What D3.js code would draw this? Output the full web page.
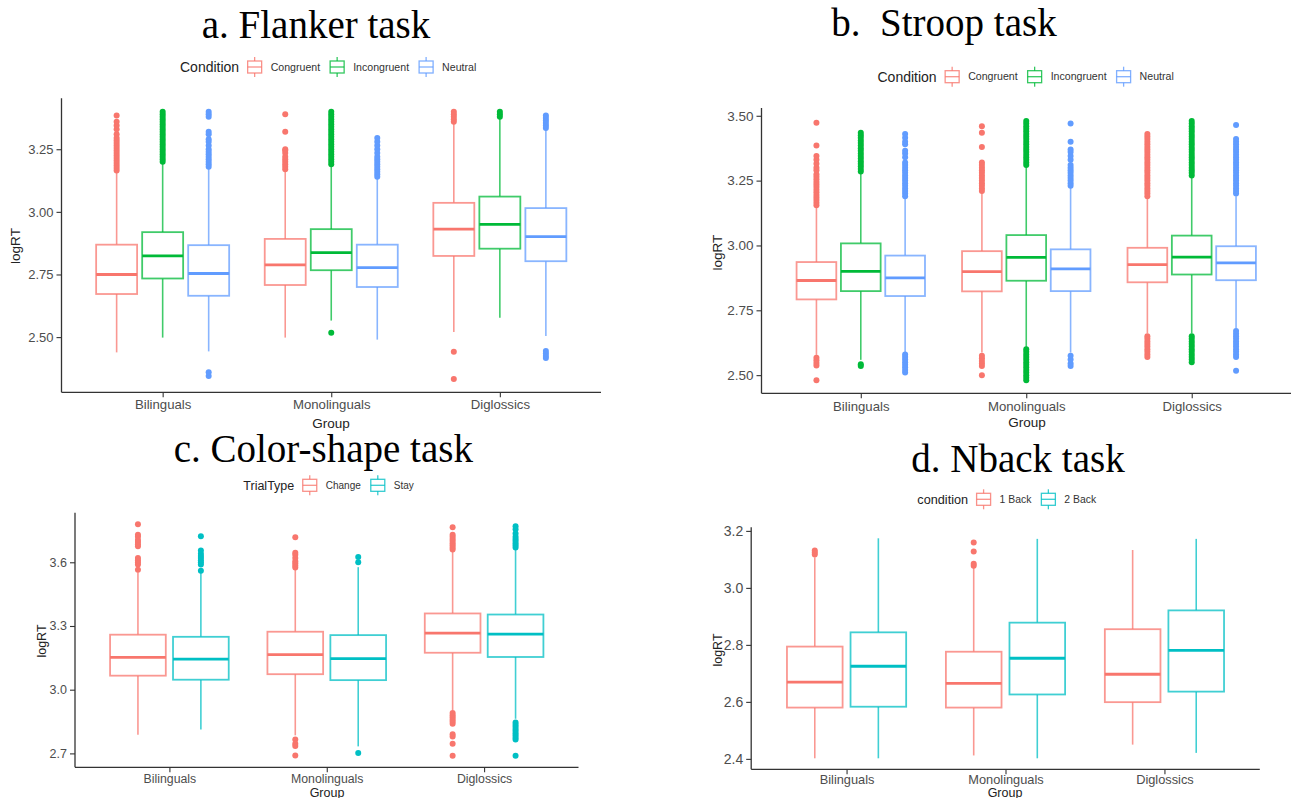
<!DOCTYPE html>
<html>
<head>
<meta charset="utf-8">
<script src="https://cdn.jsdelivr.net/npm/d3@7"></script>
<style>
  html, body { margin: 0; padding: 0; background: #fff; }
  svg { display: block; }
  .tick text { fill: #4d4d4d; font-family: "Liberation Sans", Arial, sans-serif; }
  .domain, .tick line { stroke: #333; }
</style>
</head>
<body>
<svg id="chart" width="1293" height="798"></svg>
<script>
// ---------------- DATA ----------------
const groups = ["Bilinguals", "Monolinguals", "Diglossics"];

// a. Flanker task  [group][condition]
const flankerConds = ["Congruent", "Incongruent", "Neutral"];
const flankerLo  = [[2.439, 2.498, 2.443], [2.498, 2.566, 2.490], [2.520, 2.577, 2.504]];
const flankerQ1  = [[2.672, 2.734, 2.665], [2.708, 2.767, 2.700], [2.824, 2.853, 2.803]];
const flankerMed = [[2.750, 2.824, 2.754], [2.788, 2.837, 2.777], [2.931, 2.950, 2.901]];
const flankerQ3  = [[2.869, 2.919, 2.867], [2.892, 2.931, 2.869], [3.036, 3.061, 3.015]];
const flankerHi  = [[3.161, 3.195, 3.175], [3.161, 3.185, 3.135], [3.353, 3.373, 3.327]];
const flankerOut = [
  [
    [3.165,3.175,3.185,3.195,3.205,3.215,3.225,3.235,3.245,3.255,3.265,3.275,3.285,3.295,3.31,3.33,3.345,3.36,3.385],
    [3.20,3.21,3.22,3.23,3.24,3.25,3.26,3.27,3.28,3.29,3.30,3.31,3.32,3.33,3.34,3.35,3.36,3.37,3.38,3.39,3.40],
    [3.18,3.19,3.20,3.21,3.22,3.23,3.24,3.25,3.265,3.28,3.29,3.31,3.32,3.38,3.39,3.40,2.345,2.36]
  ],
  [
    [3.17,3.18,3.19,3.20,3.21,3.22,3.235,3.245,3.25,3.32,3.39],
    [3.19,3.20,3.21,3.22,3.23,3.24,3.25,3.26,3.27,3.28,3.29,3.30,3.31,3.32,3.33,3.34,3.35,3.36,3.37,3.38,3.39,3.40,2.517],
    [3.14,3.15,3.16,3.17,3.18,3.19,3.20,3.21,3.22,3.235,3.25,3.265,3.28,3.295]
  ],
  [
    [3.36,3.37,3.38,3.39,3.40,2.442,2.333],
    [3.38,3.39,3.40],
    [3.335,3.345,3.355,3.365,3.375,3.385,2.417,2.425,2.435,2.445]
  ]
];

// b. Stroop task
const stroopConds = ["Congruent", "Incongruent", "Neutral"];
const stroopLo  = [[2.578, 2.559, 2.584], [2.587, 2.603, 2.587], [2.661, 2.661, 2.680]];
const stroopQ1  = [[2.792, 2.824, 2.805], [2.823, 2.864, 2.824], [2.858, 2.888, 2.866]];
const stroopMed = [[2.865, 2.900, 2.875], [2.899, 2.954, 2.910], [2.926, 2.955, 2.933]];
const stroopQ3  = [[2.936, 3.008, 2.961], [2.978, 3.040, 2.985], [2.991, 3.038, 2.997]];
const stroopHi  = [[3.152, 3.279, 3.184], [3.203, 3.305, 3.225], [3.184, 3.260, 3.190]];
const stroopOut = [
  [
    [3.155,3.165,3.175,3.185,3.195,3.205,3.215,3.225,3.235,3.245,3.255,3.265,3.275,3.29,3.30,3.315,3.33,3.345,3.385,3.473,2.537,2.547,2.557,2.567,2.48],
    [3.285,3.295,3.305,3.315,3.325,3.335,3.345,3.355,3.365,3.375,3.385,3.395,3.405,3.415,3.425,3.435,2.535,2.542],
    [3.19,3.20,3.21,3.22,3.23,3.24,3.25,3.26,3.27,3.28,3.29,3.30,3.31,3.32,3.34,3.355,3.365,3.39,3.40,3.415,3.43,2.51,2.52,2.53,2.54,2.55,2.56,2.57,2.58]
  ],
  [
    [3.21,3.22,3.23,3.24,3.25,3.26,3.27,3.28,3.29,3.30,3.31,3.32,3.38,3.435,3.46,2.535,2.545,2.555,2.565,2.575,2.50],
    [3.31,3.32,3.33,3.34,3.35,3.36,3.37,3.38,3.39,3.40,3.41,3.42,3.43,3.44,3.45,3.46,3.47,3.48,2.48,2.49,2.50,2.51,2.52,2.53,2.54,2.55,2.56,2.57,2.58,2.59,2.60],
    [3.23,3.24,3.25,3.26,3.27,3.28,3.29,3.30,3.31,3.33,3.345,3.36,3.37,3.40,3.47,2.535,2.545,2.56,2.575]
  ],
  [
    [3.19,3.20,3.21,3.22,3.23,3.24,3.25,3.26,3.27,3.28,3.29,3.30,3.31,3.32,3.33,3.34,3.35,3.36,3.37,3.38,3.39,3.40,3.41,3.42,3.43,2.57,2.58,2.59,2.60,2.61,2.62,2.63,2.64,2.65],
    [3.27,3.28,3.29,3.30,3.31,3.32,3.33,3.34,3.35,3.36,3.37,3.38,3.39,3.40,3.41,3.42,3.43,3.44,3.45,3.46,3.47,3.48,2.55,2.56,2.57,2.58,2.59,2.60,2.61,2.62,2.63,2.64,2.65],
    [3.20,3.21,3.22,3.23,3.24,3.25,3.26,3.27,3.28,3.29,3.30,3.31,3.32,3.33,3.34,3.35,3.36,3.37,3.38,3.39,3.40,3.41,3.464,2.57,2.58,2.59,2.60,2.61,2.62,2.63,2.64,2.65,2.66,2.67,2.517]
  ]
];

// c. Color-shape task
const colorConds = ["Change", "Stay"];
const colorLo  = [[2.788, 2.812], [2.785, 2.733], [2.903, 2.863]];
const colorQ1  = [[3.066, 3.047], [3.073, 3.045], [3.174, 3.154]];
const colorMed = [[3.152, 3.144], [3.165, 3.146], [3.266, 3.262]];
const colorQ3  = [[3.259, 3.249], [3.273, 3.257], [3.359, 3.354]];
const colorHi  = [[3.553, 3.553], [3.569, 3.577], [3.652, 3.663]];
const colorOut = [
  [
    [3.565,3.59,3.60,3.61,3.62,3.675,3.685,3.695,3.705,3.72,3.73,3.779],
    [3.56,3.59,3.60,3.61,3.62,3.63,3.64,3.655,3.723]
  ],
  [
    [3.575,3.585,3.595,3.605,3.62,3.635,3.645,3.718,2.765,2.745,2.735,2.69],
    [3.60,3.625,2.702]
  ],
  [
    [3.66,3.67,3.68,3.69,3.70,3.71,3.72,3.73,3.765,2.84,2.85,2.86,2.87,2.88,2.89,2.78,2.79,2.745,2.689],
    [3.67,3.68,3.69,3.70,3.71,3.72,3.735,3.755,3.77,2.765,2.775,2.785,2.795,2.805,2.815,2.825,2.835,2.845,2.689]
  ]
];

// d. Nback task
const nbackConds = ["1 Back", "2 Back"];
const nbackLo  = [[2.402, 2.402], [2.412, 2.402], [2.450, 2.421]];
const nbackQ1  = [[2.580, 2.583], [2.580, 2.626], [2.599, 2.636]];
const nbackMed = [[2.669, 2.725], [2.665, 2.753], [2.697, 2.781]];
const nbackQ3  = [[2.794, 2.844], [2.776, 2.878], [2.855, 2.921]];
const nbackHi  = [[3.107, 3.174], [3.072, 3.172], [3.133, 3.172]];
const nbackOut = [
  [[3.117,3.124,3.131], []],
  [[3.078,3.085,3.128,3.159], []],
  [[], []]
];

const yTicksA = [2.50, 2.75, 3.00, 3.25];
const yTicksB = [2.50, 2.75, 3.00, 3.25, 3.50];
const yTicksC = [2.7, 3.0, 3.3, 3.6];
const yTicksD = [2.4, 2.6, 2.8, 3.0, 3.2];

const colors3 = ["#F8766D", "#00BA38", "#619CFF"];
const colors2 = ["#F8766D", "#00BFC4"];

// ---------------- LAYOUT ----------------
const panels = [
  { title: "a. Flanker task", tx: 316, ty: 38,
    legendTitle: "Condition", lx: 180, ly: 67, lts: 14, lls: 10.6,
    conds: flankerConds, colors: colors3,
    lo: flankerLo, q1: flankerQ1, med: flankerMed, q3: flankerQ3, hi: flankerHi, out: flankerOut,
    area: [61.5, 601, 98.3, 392.3], spacing: 0.273, bw: 0.243,
    yTicks: yTicksA, fmt: d3.format(".2f"), tickFs: 13, xTickFs: 13.2, xPad: 2.5,
    ylab: [15.5, 246], xlab: [331, 427.5], axisFs: 13.5 },
  { title: "b.\u00a0\u00a0Stroop task", tx: 944, ty: 36,
    legendTitle: "Condition", lx: 877.5, ly: 76.7, lts: 14, lls: 10.6,
    conds: stroopConds, colors: colors3,
    lo: stroopLo, q1: stroopQ1, med: stroopMed, q3: stroopQ3, hi: stroopHi, out: stroopOut,
    area: [761.5, 1291, 108, 393.3], spacing: 0.268, bw: 0.24,
    yTicks: yTicksB, fmt: d3.format(".2f"), tickFs: 13.5, xTickFs: 13.2, xPad: 3,
    ylab: [717.6, 252.7], xlab: [1027, 427], axisFs: 13.5 },
  { title: "c. Color-shape task", tx: 323.3, ty: 462,
    legendTitle: "TrialType", lx: 243.3, ly: 485.3, lts: 12.5, lls: 10,
    conds: colorConds, colors: colors2,
    lo: colorLo, q1: colorQ1, med: colorMed, q3: colorQ3, hi: colorHi, out: colorOut,
    area: [75, 578.5, 512.7, 767.3], spacing: 0.4, bw: 0.354,
    yTicks: yTicksC, fmt: d3.format(".1f"), tickFs: 12.5, xTickFs: 12.3, xPad: 1.5,
    ylab: [41.3, 641], xlab: [327, 797], axisFs: 12.5 },
  { title: "d. Nback task", tx: 1018, ty: 472,
    legendTitle: "condition", lx: 917.3, ly: 499.3, lts: 12.7, lls: 10.4,
    conds: nbackConds, colors: colors2,
    lo: nbackLo, q1: nbackQ1, med: nbackMed, q3: nbackQ3, hi: nbackHi, out: nbackOut,
    area: [751.2, 1259.8, 527.3, 769.3], spacing: 0.4, bw: 0.35,
    yTicks: yTicksD, fmt: d3.format(".1f"), tickFs: 14, xTickFs: 12.8, xPad: 0.5,
    ylab: [717.6, 650], xlab: [1005, 797], axisFs: 12.5 }
];

const svg = d3.select("#chart");
const SANS = '"Liberation Sans", Arial, sans-serif';
const SERIF = '"Liberation Serif", "Times New Roman", serif';

function drawPanel(p) {
  const g = svg.append("g");
  const [x0, x1, y0, y1] = p.area;

  // y domain from the data, expanded by 5% (ggplot default)
  const vals = [];
  groups.forEach((_, gi) => p.conds.forEach((_, ci) => {
    vals.push(p.lo[gi][ci], p.hi[gi][ci], ...p.out[gi][ci]);
  }));
  const [mn, mx] = d3.extent(vals);
  const pad = (mx - mn) * 0.05;
  const y = d3.scaleLinear().domain([mn - pad, mx + pad]).range([y1, y0]);
  const x = d3.scalePoint().domain(groups).range([x0, x1]).padding(0.6);
  const step = x.step();
  const nC = p.conds.length;

  // title
  svg.append("text").attr("x", p.tx).attr("y", p.ty)
    .attr("text-anchor", "middle").attr("font-family", SERIF)
    .attr("font-size", 39).attr("fill", "#000").text(p.title);

  // legend
  const lg = svg.append("g").attr("transform", `translate(${p.lx},${p.ly})`);
  const lt = lg.append("text").attr("x", 0).attr("y", 0).attr("dy", "0.35em")
    .attr("font-family", SANS).attr("font-size", p.lts).attr("fill", "#222").text(p.legendTitle);
  let cx = lt.node().getComputedTextLength() + 7.5;
  p.conds.forEach((c, ci) => {
    const col = p.colors[ci];
    const kg = lg.append("g").attr("transform", `translate(${cx},0)`);
    kg.append("line").attr("x1", 8).attr("x2", 8).attr("y1", -10).attr("y2", -6)
      .attr("stroke", col).attr("stroke-width", 1.3).attr("stroke-opacity", 0.8);
    kg.append("line").attr("x1", 8).attr("x2", 8).attr("y1", 6).attr("y2", 10)
      .attr("stroke", col).attr("stroke-width", 1.3).attr("stroke-opacity", 0.8);
    kg.append("rect").attr("x", 1).attr("y", -6).attr("width", 14).attr("height", 12)
      .attr("fill", "none").attr("stroke", col).attr("stroke-width", 1.3).attr("stroke-opacity", 0.8);
    kg.append("line").attr("x1", 1).attr("x2", 15).attr("y1", 0).attr("y2", 0)
      .attr("stroke", col).attr("stroke-width", 1.3).attr("stroke-opacity", 0.8);
    cx += 16 + 8;
    const t = lg.append("text").attr("x", cx).attr("y", 0).attr("dy", "0.35em")
      .attr("font-family", SANS).attr("font-size", p.lls).attr("fill", "#333").text(c);
    cx += t.node().getComputedTextLength() + 9;
  });

  // axes
  const ya = g.append("g").attr("transform", `translate(${x0},0)`)
    .call(d3.axisLeft(y).tickValues(p.yTicks).tickFormat(p.fmt).tickSize(5).tickSizeOuter(0).tickPadding(3));
  ya.selectAll(".tick text").attr("font-size", p.tickFs);
  ya.select(".domain").attr("stroke-width", 1.3);
  const xa = g.append("g").attr("transform", `translate(0,${y1})`)
    .call(d3.axisBottom(x).tickSize(5).tickSizeOuter(0).tickPadding(p.xPad));
  xa.selectAll(".tick text").attr("font-size", p.xTickFs);
  xa.select(".domain").attr("stroke-width", 1.3);
  ya.selectAll(".tick line").attr("stroke-width", 1.1);
  xa.selectAll(".tick line").attr("stroke-width", 1.1);
  // axis lines span the full panel
  ya.select(".domain").attr("d", `M0,${y0}V${y1}`);
  xa.select(".domain").attr("d", `M${x0},0H${x1}`);

  // axis titles
  g.append("text").attr("transform", `translate(${p.ylab[0]},${p.ylab[1]}) rotate(-90)`)
    .attr("text-anchor", "middle").attr("dy", "0.35em")
    .attr("font-family", SANS).attr("font-size", p.axisFs).attr("fill", "#222").text("logRT");
  g.append("text").attr("x", p.xlab[0]).attr("y", p.xlab[1])
    .attr("text-anchor", "middle")
    .attr("font-family", SANS).attr("font-size", p.axisFs).attr("fill", "#222").text("Group");

  // boxes
  groups.forEach((gname, gi) => {
    p.conds.forEach((c, ci) => {
      const col = p.colors[ci];
      const xc = x(gname) + (ci - (nC - 1) / 2) * p.spacing * step;
      const w = p.bw * step;
      const bg = g.append("g");
      bg.append("line").attr("x1", xc).attr("x2", xc)
        .attr("y1", y(p.q3[gi][ci])).attr("y2", y(p.hi[gi][ci]))
        .attr("stroke", col).attr("stroke-width", 1.6).attr("stroke-opacity", 0.75);
      bg.append("line").attr("x1", xc).attr("x2", xc)
        .attr("y1", y(p.q1[gi][ci])).attr("y2", y(p.lo[gi][ci]))
        .attr("stroke", col).attr("stroke-width", 1.6).attr("stroke-opacity", 0.75);
      bg.append("rect").attr("x", xc - w / 2).attr("width", w)
        .attr("y", y(p.q3[gi][ci])).attr("height", y(p.q1[gi][ci]) - y(p.q3[gi][ci]))
        .attr("fill", "#fff").attr("stroke", col).attr("stroke-width", 1.8).attr("stroke-opacity", 0.75);
      bg.append("line").attr("x1", xc - w / 2).attr("x2", xc + w / 2)
        .attr("y1", y(p.med[gi][ci])).attr("y2", y(p.med[gi][ci]))
        .attr("stroke", col).attr("stroke-width", 2.8);
      bg.selectAll("circle.o").data(p.out[gi][ci]).join("circle")
        .attr("class", "o").attr("cx", xc).attr("cy", v => y(v)).attr("r", 3)
        .attr("fill", col);
    });
  });
}

panels.forEach(drawPanel);
</script>
</body>
</html>
